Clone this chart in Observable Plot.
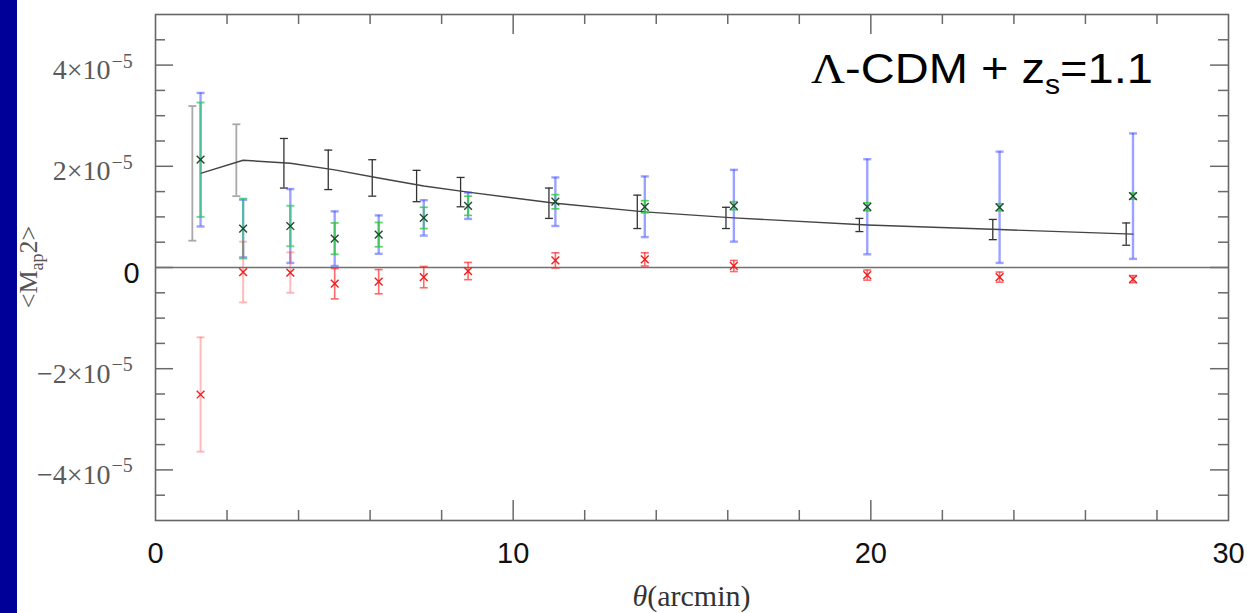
<!DOCTYPE html>
<html>
<head>
<meta charset="utf-8">
<script src="https://cdn.jsdelivr.net/npm/d3@7"></script>
<script src="https://cdn.jsdelivr.net/npm/@observablehq/plot@0.6"></script>
<style>
  html, body { margin: 0; padding: 0; background: #fff; }
  #chart { width: 1247px; height: 613px; }
</style>
</head>
<body>
<div id="chart"></div>
<script>
// ---- data (aperture-mass values are in units of 1e-5) ----
const theta      = [1.26, 2.45, 3.77, 5.01, 6.24, 7.50, 8.74, 11.18, 13.68, 16.17, 19.90, 23.60, 27.33];
const thetaModel = [1.03, 2.26, 3.59, 4.83, 6.06, 7.30, 8.53, 11.00, 13.47, 15.95, 19.68, 23.41, 27.14];
const model      = [1.86, 2.12, 2.06, 1.93, 1.77, 1.61, 1.49, 1.27, 1.10, 0.98, 0.84, 0.75, 0.66];
const modelErr   = [1.33, 0.71, 0.49, 0.39, 0.36, 0.31, 0.29, 0.30, 0.33, 0.21, 0.13, 0.20, 0.22];
const eMode      = [2.13, 0.77, 0.82, 0.57, 0.65, 0.98, 1.22, 1.30, 1.20, 1.22, 1.20, 1.19, 1.41];
const eErrStat   = [1.13, 0.59, 0.40, 0.31, 0.24, 0.21, 0.19, 0.14, 0.12, 0.08, 0.08, 0.07, 0.06];
const eErrTot    = [1.32, 0.57, 0.73, 0.54, 0.38, 0.35, 0.26, 0.48, 0.60, 0.71, 0.94, 1.10, 1.24];
const bMode      = [-2.51, -0.09, -0.10, -0.32, -0.28, -0.19, -0.07, 0.14, 0.16, 0.03, -0.15, -0.19, -0.23];
const bErr       = [1.13, 0.60, 0.40, 0.30, 0.24, 0.21, 0.17, 0.15, 0.13, 0.11, 0.10, 0.10, 0.07];

const xTickLabels = [0, 10, 20, 30];
const xMajorTicks = [10, 20];
const xMinorTicks = [2, 4, 6, 8, 12, 14, 16, 18, 22, 24, 26, 28];
const yTickLabels = [4, 2, -2, -4];       // × 10^-5
const yMajorTicks = [-4, -2, 0, 2, 4];
const yMinorTicks = [-4.5, -3.5, -3, -2.5, -1.5, -1, -0.5, 0.5, 1, 1.5, 2.5, 3, 3.5, 4.5];
const yExponent = "−5";
const zeroLabel = ["0"];
const xTitleVar = "θ", xTitleRest = "(arcmin)";
const annotation = {lambda: "Λ", main: "-CDM + z", sub: "s", tail: "=1.1"};

// ---- layout ----
const W = 1247, H = 613;
const mL = 155, mR = 19, mT = 14, mB = 93;
const innerW = W - mL - mR;
const innerH = H - mT - mB;
const serif = "'Liberation Serif', 'DejaVu Serif', serif";
const sans = "'Liberation Sans', Arial, sans-serif";

const rows = theta.map((t, i) => ({
  i, t, tm: thetaModel[i], m: model[i], me: modelErr[i],
  e: eMode[i], es: eErrStat[i], et: eErrTot[i], b: bMode[i], be: bErr[i]
}));

const capSym = {
  draw(ctx, size) {
    const r = Math.sqrt(size / Math.PI);
    ctx.moveTo(-r, 0); ctx.lineTo(r, 0);
  }
};

function errorbar(xf, yf, ef, style, filter) {
  const o = {...style};
  if (filter) o.filter = filter;
  return [
    Plot.ruleX(rows, {x: xf, y1: d => yf(d) - ef(d), y2: d => yf(d) + ef(d), ...o}),
    Plot.dot(rows, {x: xf, y: d => yf(d) - ef(d), symbol: capSym, r: 4, fill: "none", ...o}),
    Plot.dot(rows, {x: xf, y: d => yf(d) + ef(d), symbol: capSym, r: 4, fill: "none", ...o})
  ];
}

const tickStyle = {stroke: "#6a6a6a", strokeWidth: 1.5};

const plot = Plot.plot({
  width: W, height: H,
  marginLeft: mL, marginRight: mR, marginTop: mT, marginBottom: mB,
  x: {domain: [0, 30], axis: null},
  y: {domain: [-5, 5], axis: null},
  style: {background: "white", overflow: "visible"},
  marks: [
    // inward ticks: left / right
    Plot.tickY(yMajorTicks, {y: d => d, insetRight: innerW - 18, ...tickStyle}),
    Plot.tickY(yMinorTicks, {y: d => d, insetRight: innerW - 10, ...tickStyle}),
    Plot.tickY(yMajorTicks, {y: d => d, insetLeft: innerW - 18, ...tickStyle}),
    Plot.tickY(yMinorTicks, {y: d => d, insetLeft: innerW - 10, ...tickStyle}),
    // inward ticks: bottom / top
    Plot.tickX(xMajorTicks, {x: d => d, insetTop: innerH - 20, ...tickStyle}),
    Plot.tickX(xMinorTicks, {x: d => d, insetTop: innerH - 10, ...tickStyle}),
    Plot.tickX(xMajorTicks, {x: d => d, insetBottom: innerH - 20, ...tickStyle}),
    Plot.tickX(xMinorTicks, {x: d => d, insetBottom: innerH - 10, ...tickStyle}),
    // zero line
    Plot.ruleY([0], {stroke: "#707070", strokeWidth: 1.6}),
    // model error bars (black / grey)
    ...errorbar(d => d.tm, d => d.m, d => d.me, {stroke: "#a9a9a9", strokeWidth: 1.8}, d => d.i < 2),
    ...errorbar(d => d.tm, d => d.m, d => d.me, {stroke: "#333", strokeWidth: 1.3}, d => d.i >= 2),
    // model line
    Plot.line(rows, {x: "t", y: "m", stroke: "#444", strokeWidth: 1.4}),
    // E-mode total errors (blue)
    ...errorbar(d => d.t, d => d.e, d => d.et, {stroke: "#3848ff", strokeOpacity: 0.5, strokeWidth: 2.4}),
    // E-mode statistical errors (green)
    ...errorbar(d => d.t, d => d.e, d => d.es, {stroke: "#2fc86a", strokeOpacity: 0.7, strokeWidth: 2}, d => d.i < 3),
    ...errorbar(d => d.t, d => d.e, d => d.es, {stroke: "#2fc83f", strokeOpacity: 0.8, strokeWidth: 1.7}, d => d.i >= 3),
    // B-mode errors (red)
    ...errorbar(d => d.t, d => d.b, d => d.be, {stroke: "#ff3b3b", strokeOpacity: 0.35, strokeWidth: 2}, d => d.i < 3),
    ...errorbar(d => d.t, d => d.b, d => d.be, {stroke: "#ff2a2a", strokeOpacity: 0.7, strokeWidth: 1.6}, d => d.i >= 3),
    // markers
    Plot.dot(rows, {x: "t", y: "e", symbol: "times", r: 3.6, stroke: "#1f4a30", strokeWidth: 1.4}),
    Plot.dot(rows, {x: "t", y: "b", symbol: "times", r: 3.6, stroke: "#ee1c1c", strokeWidth: 1.4}),
    // frame
    Plot.frame({stroke: "#666", strokeWidth: 1.6}),
    // x tick labels
    Plot.text(xTickLabels, {x: d => d, frameAnchor: "bottom", dy: 42, text: d => String(d),
      fontSize: 29, fontFamily: sans, fill: "#111"}),
    // y tick labels (mantissa × 10, then exponent)
    Plot.text(yTickLabels, {y: d => d, frameAnchor: "left", dx: -45, dy: 5, textAnchor: "end",
      text: d => `${d < 0 ? "−" : ""}${Math.abs(d)}×10`, fontSize: 28, fontFamily: serif, fill: "#5a5a5a"}),
    Plot.text(yTickLabels, {y: d => d, frameAnchor: "left", dx: -44, dy: -4, textAnchor: "start",
      text: () => yExponent, fontSize: 20, fontFamily: serif, fill: "#5a5a5a"}),
    Plot.text([0], {y: d => d, frameAnchor: "left", dx: -24, dy: 6, textAnchor: "middle",
      text: (d, i) => zeroLabel[i], fontSize: 29, fontFamily: sans, fill: "#111"})
  ]
});

document.getElementById("chart").appendChild(plot);

// ---- decorations: slide strip, axis titles, annotation ----
const svg = d3.select(plot);
svg.insert("rect", ":first-child")
  .attr("x", 0).attr("y", 0).attr("width", 17).attr("height", H).attr("fill", "#000099");

// y title  <M_ap 2>
const yt = svg.append("text")
  .attr("transform", `translate(37,${mT + innerH / 2}) rotate(-90)`)
  .attr("text-anchor", "middle")
  .attr("font-family", serif).attr("font-size", 26).attr("fill", "#555");
yt.append("tspan").text("<M");
yt.append("tspan").attr("font-size", 18).attr("dy", 6).text("ap");
yt.append("tspan").attr("dy", -6).text("2>");

// x title  θ(arcmin)
const xt = svg.append("text")
  .attr("x", mL + innerW / 2).attr("y", 606)
  .attr("text-anchor", "middle")
  .attr("font-family", serif).attr("font-size", 30).attr("fill", "#333");
xt.append("tspan").attr("font-style", "italic").text(xTitleVar);
xt.append("tspan").text(xTitleRest);

// annotation  Λ-CDM + z_s=1.1
const an = svg.append("text")
  .attr("transform", "translate(811,83) scale(1.12,1)")
  .attr("text-anchor", "start")
  .attr("font-family", sans).attr("font-size", 42).attr("fill", "#000");
an.append("tspan").attr("font-family", serif).text(annotation.lambda);
an.append("tspan").text(annotation.main);
an.append("tspan").attr("font-size", 27).attr("dy", 11).text(annotation.sub);
an.append("tspan").attr("dy", -11).text(annotation.tail);
</script>
</body>
</html>
